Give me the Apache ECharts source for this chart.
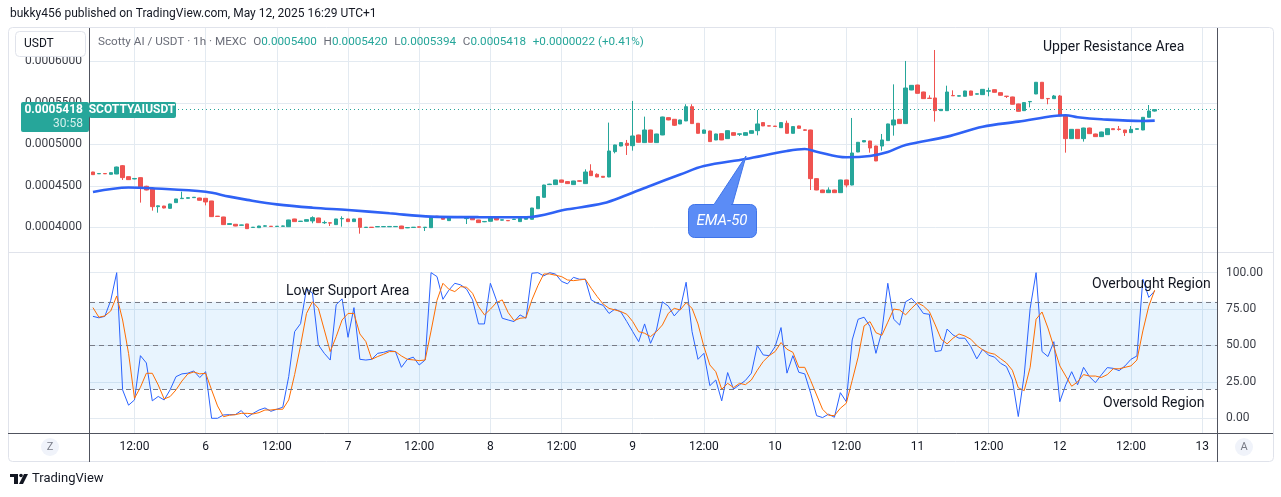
<!DOCTYPE html>
<html>
<head>
<meta charset="utf-8">
<script src="https://cdn.jsdelivr.net/npm/echarts@6.0.0/dist/echarts.min.js"></script>
<style>
  html, body { margin: 0; padding: 0; background: #fff; }
  #chart { width: 1281px; height: 497px; }
</style>
</head>
<body>
<div id="chart"></div>
<script>
// time axis: one slot per hour, first slot = May 5 05:00
const slotCount = 190;
const firstTick = 7;      // May 5 12:00
const tickStep = 12;
const tickLabels = ['12:00', '6', '12:00', '7', '12:00', '8', '12:00', '9', '12:00', '10', '12:00', '11', '12:00', '12', '12:00', '13'];

// prices are in 1e-7 USDT
const priceTicks = [4000, 4500, 5000, 5500, 6000];
const lastPrice = 5418;
const oscTicks = [0, 25, 50, 75, 100];
const oscLevels = [80, 50, 20];

// [open, close, low, high]
const candles = [
  [4666,4634,4632,4668],[4644,4648,4642,4650],[4648,4644,4642,4650],[4638,4658,4636,4660],[4642,4726,4640,4730],
  [4742,4598,4570,4750],[4610,4574,4570,4612],[4582,4588,4578,4592],[4598,4485,4297,4600],[4494,4449,4445,4500],
  [4469,4248,4200,4472],[4248,4258,4176,4262],[4256,4232,4228,4258],[4228,4281,4225,4283],[4297,4341,4295,4343],
  [4345,4350,4343,4429],[4349,4357,4346,4360],[4357,4362,4355,4364],[4353,4325,4322,4356],[4349,4305,4264,4350],
  [4317,4128,4125,4318],[4134,4130,4128,4136],[4124,4032,4030,4126],[4034,4044,4030,4050],[4036,4015,4013,4038],
  [4024,4028,4022,4030],[4040,3983,3981,4042],[3997,4001,3995,4003],[3995,4015,3993,4018],[4013,4017,4008,4024],
  [4013,4009,4007,4015],[4009,4013,4007,4015],[4011,4016,4009,4020],[4007,4088,4005,4090],[4100,4068,4066,4102],
  [4070,4074,4068,4076],[4072,4092,4070,4094],[4076,4116,4048,4132],[4112,4056,4054,4114],[4054,4058,4040,4080],
  [4054,4050,4015,4056],[4032,4100,4030,4102],[4102,4106,4007,4132],[4100,4068,4066,4102],[4068,4100,4066,4102],
  [4108,3999,3923,4110],[3997,4001,3995,4003],[4001,3997,3995,4003],[4005,4009,4003,4011],[4006,4009,4004,4011],
  [4006,4010,4004,4012],[4007,4010,4005,4012],[4015,3983,3981,4017],[3993,3997,3990,3999],[3997,4001,3995,4003],
  [4005,4001,3999,4007],[3997,4001,3955,4003],[3995,4124,3993,4126],[4134,4128,4124,4136],[4120,4096,4092,4122],
  [4080,4120,4078,4122],[4124,4130,4120,4134],[4126,4130,4122,4134],[4104,4110,4039,4112],[4112,4090,4088,4114],
  [4088,4056,4052,4090],[4066,4070,4062,4072],[4072,4120,4070,4122],[4120,4088,4086,4122],[4086,4090,4084,4092],
  [4082,4078,4076,4084],[4094,4098,4092,4100],[4068,4108,4066,4110],[4096,4120,4094,4122],[4096,4232,4094,4234],
  [4224,4369,4222,4372],[4361,4509,4358,4512],[4514,4520,4510,4524],[4514,4570,4512,4572],[4570,4542,4540,4572],
  [4550,4526,4522,4552],[4514,4558,4512,4560],[4560,4555,4550,4562],[4526,4666,4524,4698],[4678,4622,4620,4759],
  [4638,4606,4604,4650],[4614,4602,4600,4616],[4606,4919,4604,5261],[4911,4992,4891,4995],[4979,5020,4976,5022],
  [5012,4987,4871,5052],[4983,5100,4923,5522],[5112,5024,5022,5115],[5020,5172,5018,5333],[5172,5024,5022,5175],
  [5020,5124,5018,5126],[5112,5329,5110,5332],[5321,5293,5290,5324],[5301,5229,5220,5304],[5245,5293,5243,5296],
  [5281,5453,5279,5482],[5453,5249,5247,5482],[5253,5132,5130,5256],[5132,5172,5130,5175],[5160,5032,5030,5163],
  [5052,5124,5050,5127],[5128,5052,5050,5130],[5068,5164,5066,5167],[5140,5108,5106,5143],[5120,5126,5100,5128],
  [5108,5140,5106,5143],[5132,5164,5130,5167],[5164,5245,5108,5413],[5261,5221,5219,5264],[5223,5219,5217,5225],
  [5219,5215,5213,5221],[5200,5261,5198,5264],[5253,5132,5130,5285],[5132,5213,5130,5215],[5221,5192,5190,5224],
  [5174,5168,5160,5180],[5172,4586,4449,5175],[4586,4449,4447,4590],[4449,4417,4415,4452],[4417,4449,4415,4481],
  [4449,4417,4415,4452],[4417,4570,4415,4572],[4570,4509,4481,4572],[4509,4895,4505,5317],[4907,5024,4905,5026],
  [5028,5044,5026,5047],[5040,4955,4899,5042],[4979,4799,4797,4982],[4979,5052,4923,5124],[5044,5245,5042,5248],
  [5232,5293,5104,5722],[5301,5249,5247,5304],[5249,5678,5247,6004],[5654,5710,5652,5713],[5714,5614,5612,5717],
  [5630,5550,5548,5633],[5556,5552,5550,5590],[5558,5405,5273,6136],[5405,5421,5403,5423],[5405,5630,5403,5706],
  [5588,5584,5582,5650],[5580,5585,5578,5587],[5578,5642,5576,5645],[5642,5590,5588,5645],[5604,5608,5602,5610],
  [5598,5662,5596,5665],[5640,5645,5578,5682],[5658,5626,5624,5660],[5622,5590,5588,5624],[5580,5576,5558,5582],
  [5570,5482,5480,5573],[5486,5397,5395,5489],[5405,5502,5403,5505],[5512,5516,5445,5518],[5606,5747,5604,5750],
  [5747,5550,5548,5750],[5552,5548,5482,5554],[5550,5582,5548,5594],[5582,5341,5339,5594],[5341,5068,4899,5344],
  [5068,5180,5066,5183],[5180,5068,5066,5183],[5068,5196,5032,5199],[5196,5128,5126,5199],[5124,5092,5090,5127],
  [5092,5148,5090,5151],[5116,5188,5114,5191],[5188,5176,5174,5190],[5184,5178,5164,5220],[5172,5140,5100,5174],
  [5140,5180,5138,5220],[5180,5188,5178,5190],[5172,5325,5170,5328],[5325,5401,5323,5473],[5400,5418,5394,5420]
];

// EMA-50 read at a few slots: [slot, price]
const emaPoints = [
  [0,4425],[6,4480],[10,4470],[19,4428],[23,4369],[26,4330],[31,4276],[37,4236],[43,4208],[50,4168],
  [57,4128],[65,4122],[73,4120],[80,4216],[86,4289],[90,4389],[94,4501],[99,4635],[103,4738],[110,4823],
  [117,4919],[120,4943],[122,4911],[127,4843],[131,4859],[134,4907],[137,4992],[144,5092],[150,5212],[156,5273],
  [162,5341],[164,5349],[166,5325],[170,5301],[177,5281],[179,5285]
];

// stochastic %K and %D
const stochK = [
  70,69,70,81,100,19.5,9,12.6,43,38,
  12,15,12.6,19.5,28.6,30.5,31,32.5,28,32,
  0,0,2.3,2.5,2.5,5.3,0.7,3.4,5.7,7.1,
  4.8,6.2,7.6,28.6,59.5,65,89,86,50.4,44.6,
  40,78,82,55.6,76,40.5,40,40.5,44.6,45.3,
  46.5,45.8,35,40.5,42,36.6,40,100,97.3,81.7,
  88,92.7,91.6,88.6,81.3,64.8,64.8,92.7,81.3,68.7,
  67.5,66.4,71,68.7,99.6,100,97.8,100,99,94,
  92.3,96.8,95.5,95.5,81.3,79,77.6,72,75,73,
  66.4,59.5,52.6,64.8,51.5,60.7,80,77,70.3,75,
  93.4,59.5,40.5,44.6,22.4,26.3,12,31.4,20,23,
  26,31,50,43.5,43,49.2,62.3,31,43,31.6,
  30.5,17.2,1.8,0.5,2.8,0.7,17.6,11.4,53.8,68,
  69.4,63,44.6,59.5,92.7,68,64,80,82.4,77.8,
  72,71.4,45.8,46.5,61.3,57.2,55,55,49.2,40.8,
  47.4,43.3,42,37.8,35.5,26.3,1.2,29.8,75.5,100,
  45.8,42.4,52.6,11.4,23,32,23,35,28.6,24.5,
  29.8,34.8,34.3,32.7,36,40.5,42.8,95.5,83,87.4
];
const stochD = [
  76,69.4,70.3,73.7,84,67.5,44.6,13.7,21.3,30.9,
  30.9,22.9,13.3,14.9,19.5,25.6,30.5,31.8,30.5,30.9,
  19.5,8.5,1.1,2.1,2.5,3.4,3.4,3,3.9,5.7,
  5.7,6.2,6.2,12.6,30,50,72,80,75.5,60.7,
  45.8,56,67.5,72,72,57.9,52.7,40.5,42.4,44,
  45.8,45.8,42.8,40.5,40.1,39.6,40,60,81,92.7,
  88.6,87,90.4,90,85.8,76.7,71,74.9,79.4,81.3,
  72.6,67.1,68.7,69.1,81.3,91,99.1,99.1,98.2,97.3,
  95,94.5,95,95.5,89.3,83.6,78.5,75.5,74.4,73.3,
  71.4,66.4,59.5,58.4,56.1,59.5,64.1,72.1,75.5,74.4,
  79.4,75.5,64.8,49.2,36.6,32,19.9,24,21.1,24,
  23.1,26.3,33,39,43,45.8,52,47.4,45.3,35,
  35,25.9,16,6.2,2.1,1.8,6.9,10.3,26,42,
  63.4,66.4,58.8,57,66,75,74.4,71,75.5,79.4,
  77.1,73.3,64.1,54.3,51.1,55,57.9,56.5,54.3,50,
  47,45,44,41,38,33,21,19,35,68,
  73,62,49,36,29,22,25,30,29,29,
  28,30,34,34,35,36,40,60,77,88
];

const slots = [];
for (let i = 0; i < slotCount; i++) slots.push(i);
const isTick = (idx) => idx >= firstTick && (idx - firstTick) % tickStep === 0;

const FONT = 'Roboto, "Noto Sans", sans-serif';
const gridColor = '#e3eaf1';
const axisDark = '#50535e';
const textDark = '#131722';
const up = '#26a69a';
const down = '#ef5350';

const chart = echarts.init(document.getElementById('chart'));

function xAxisFor(gridIndex, showLabels) {
  return {
    type: 'category',
    gridIndex: gridIndex,
    data: slots,
    boundaryGap: true,
    axisLine: { show: false },
    axisTick: { show: false },
    axisLabel: {
      show: showLabels,
      interval: isTick,
      formatter: (v) => tickLabels[(Number(v) - firstTick) / tickStep],
      color: textDark,
      fontFamily: FONT,
      fontSize: 12,
      margin: 8
    },
    splitLine: { show: true, interval: isTick, alignWithLabel: true, lineStyle: { color: gridColor, width: 1 } }
  };
}

const option = {
  animation: false,
  backgroundColor: '#ffffff',
  grid: [
    { left: 90, right: 64, top: 28, height: 224 },
    { left: 90, right: 64, top: 253, height: 180 }
  ],
  xAxis: [xAxisFor(0, false), xAxisFor(1, true)],
  yAxis: [
    {
      type: 'value',
      gridIndex: 0,
      position: 'left',
      min: 3702,
      max: 6401,
      axisLine: { show: false },
      axisTick: { show: false, customValues: priceTicks },
      axisLabel: {
        customValues: priceTicks,
        formatter: (v) => (v / 1e7).toFixed(7),
        color: '#3b3e47',
        fontFamily: FONT,
        fontSize: 12,
        margin: 8
      },
      splitLine: { show: true, lineStyle: { color: gridColor } }
    },
    {
      type: 'value',
      gridIndex: 1,
      position: 'right',
      min: -10.1,
      max: 113.5,
      axisLine: { show: false },
      axisTick: { show: false, customValues: oscTicks },
      axisLabel: {
        customValues: oscTicks,
        formatter: (v) => v.toFixed(2),
        color: '#3b3e47',
        fontFamily: FONT,
        fontSize: 12,
        margin: 9
      },
      splitLine: { show: true, lineStyle: { color: gridColor } }
    }
  ],
  series: [
    {
      name: 'SCOTTYAIUSDT',
      type: 'candlestick',
      xAxisIndex: 0,
      yAxisIndex: 0,
      data: candles,
      barWidth: 4,
      itemStyle: { color: up, color0: down, borderColor: up, borderColor0: down, borderWidth: 1 },
      markLine: {
        silent: true,
        symbol: 'none',
        label: { show: false },
        lineStyle: { type: [1, 3], color: up, width: 1 },
        data: [{ yAxis: lastPrice }]
      }
    },
    {
      name: 'EMA-50',
      type: 'line',
      xAxisIndex: 0,
      yAxisIndex: 0,
      data: emaPoints,
      smooth: 0.35,
      showSymbol: false,
      lineStyle: { color: '#2f62f5', width: 2.6 },
      z: 3
    },
    {
      name: '%K',
      type: 'line',
      xAxisIndex: 1,
      yAxisIndex: 1,
      data: stochK,
      showSymbol: false,
      lineStyle: { color: '#2962ff', width: 1 },
      markArea: {
        silent: true,
        itemStyle: { color: 'rgba(33,150,243,0.1)' },
        data: [[{ yAxis: oscLevels[2] }, { yAxis: oscLevels[0] }]]
      },
      markLine: {
        silent: true,
        symbol: 'none',
        label: { show: false },
        lineStyle: { type: [5, 4], color: '#787b86', width: 1 },
        data: oscLevels.map((v) => ({ yAxis: v }))
      }
    },
    {
      name: '%D',
      type: 'line',
      xAxisIndex: 1,
      yAxisIndex: 1,
      data: stochD,
      showSymbol: false,
      lineStyle: { color: '#ff6d00', width: 1 }
    }
  ],
  graphic: [
    // frame and pane borders
    { type: 'rect', shape: { x: 8.5, y: 27.5, width: 1265, height: 434, r: 4 }, style: { fill: 'none', stroke: '#e0e3eb' }, z: 10 },
    { type: 'line', shape: { x1: 8, y1: 252.5, x2: 1273, y2: 252.5 }, style: { stroke: '#e0e3eb' }, z: 10 },
    { type: 'line', shape: { x1: 8, y1: 433.5, x2: 1273, y2: 433.5 }, style: { stroke: axisDark }, z: 10 },
    { type: 'line', shape: { x1: 89.5, y1: 28, x2: 89.5, y2: 462 }, style: { stroke: axisDark }, z: 10 },
    { type: 'line', shape: { x1: 1217.5, y1: 28, x2: 1217.5, y2: 462 }, style: { stroke: axisDark }, z: 10 },

    // header
    { type: 'text', x: 10, y: 14, style: { text: 'bukky456 published on TradingView.com, May 12, 2025 16:29 UTC+1', fill: textDark, font: '12px ' + FONT, textVerticalAlign: 'middle' }, z: 20 },

    // currency box
    { type: 'rect', shape: { x: 15.5, y: 31.5, width: 70, height: 25, r: 4 }, style: { fill: '#ffffff', stroke: '#e0e3eb' }, z: 20 },
    { type: 'text', x: 24, y: 44, style: { text: 'USDT', fill: textDark, font: '12px ' + FONT, textVerticalAlign: 'middle' }, z: 21 },

    // legend line
    {
      type: 'text', x: 98, y: 42, z: 20,
      style: {
        text: '{g|Scotty AI / USDT · 1h · MEXC}  {g|O}{v|0.0005400}  {g|H}{v|0.0005420}  {g|L}{v|0.0005394}  {g|C}{v|0.0005418}  {v|+0.0000022 (+0.41%)}',
        textVerticalAlign: 'middle',
        rich: {
          g: { fill: '#6a6d78', font: '11.7px ' + FONT },
          v: { fill: up, font: '11.7px ' + FONT }
        }
      }
    },

    // last price tag
    { type: 'rect', shape: { x: 21, y: 102, width: 68, height: 30, r: 2 }, style: { fill: up }, z: 20 },
    { type: 'text', x: 83, y: 110, style: { text: '0.0005418', fill: '#ffffff', font: 'bold 12px ' + FONT, textAlign: 'right', textVerticalAlign: 'middle' }, z: 21 },
    { type: 'text', x: 83, y: 124, style: { text: '30:58', fill: '#d4f0ec', font: '12px ' + FONT, textAlign: 'right', textVerticalAlign: 'middle' }, z: 21 },
    { type: 'rect', shape: { x: 89, y: 102, width: 87, height: 16, r: 2 }, style: { fill: up }, z: 20 },
    { type: 'text', x: 132, y: 110, style: { text: 'SCOTTYAIUSDT', fill: '#ffffff', font: 'bold 12px ' + FONT, textAlign: 'center', textVerticalAlign: 'middle' }, z: 21 },

    // EMA-50 callout
    { type: 'polygon', shape: { points: [[713, 206], [732, 206], [746, 156]] }, style: { fill: '#5b8cf6', stroke: '#3f74ea' }, z: 20 },
    { type: 'rect', shape: { x: 688.5, y: 204.5, width: 68, height: 33, r: 6 }, style: { fill: '#5b8cf6', stroke: '#3f74ea' }, z: 20 },
    { type: 'rect', shape: { x: 714, y: 203, width: 17, height: 4 }, style: { fill: '#5b8cf6' }, z: 21 },
    { type: 'text', x: 722, y: 221, style: { text: 'EMA-50', fill: '#ffffff', font: 'italic 15px ' + FONT, textAlign: 'center', textVerticalAlign: 'middle' }, z: 22 },

    // annotations
    { type: 'text', x: 1043, y: 47, style: { text: 'Upper Resistance Area', fill: textDark, font: '14px ' + FONT, textVerticalAlign: 'middle' }, z: 20 },
    { type: 'text', x: 286, y: 291, style: { text: 'Lower Support Area', fill: textDark, font: '14px ' + FONT, textVerticalAlign: 'middle' }, z: 20 },
    { type: 'text', x: 1092, y: 284, style: { text: 'Overbought Region', fill: textDark, font: '14px ' + FONT, textVerticalAlign: 'middle' }, z: 20 },
    { type: 'text', x: 1103, y: 403, style: { text: 'Oversold Region', fill: textDark, font: '14px ' + FONT, textVerticalAlign: 'middle' }, z: 20 },

    // bottom corner buttons
    { type: 'circle', shape: { cx: 50, cy: 447, r: 9 }, style: { fill: '#f0f3fa' }, z: 20 },
    { type: 'text', x: 50, y: 447, style: { text: 'Z', fill: '#787b86', font: '11px ' + FONT, textAlign: 'center', textVerticalAlign: 'middle' }, z: 21 },
    { type: 'circle', shape: { cx: 1244, cy: 447, r: 9 }, style: { fill: '#f0f3fa' }, z: 20 },
    { type: 'text', x: 1244, y: 447, style: { text: 'A', fill: '#787b86', font: '11px ' + FONT, textAlign: 'center', textVerticalAlign: 'middle' }, z: 21 },

    // footer logo
    { type: 'rect', shape: { x: 10, y: 474, width: 8, height: 3 }, style: { fill: textDark }, z: 20 },
    { type: 'rect', shape: { x: 14, y: 474, width: 4, height: 10 }, style: { fill: textDark }, z: 20 },
    { type: 'circle', shape: { cx: 21, cy: 475.5, r: 1.8 }, style: { fill: textDark }, z: 20 },
    { type: 'polygon', shape: { points: [[24, 474], [28, 474], [23, 484], [19, 484]] }, style: { fill: textDark }, z: 20 },
    { type: 'text', x: 32, y: 479, style: { text: 'TradingView', fill: textDark, font: '13px ' + FONT, textVerticalAlign: 'middle' }, z: 20 }
  ]
};

chart.setOption(option);
</script>
</body>
</html>
